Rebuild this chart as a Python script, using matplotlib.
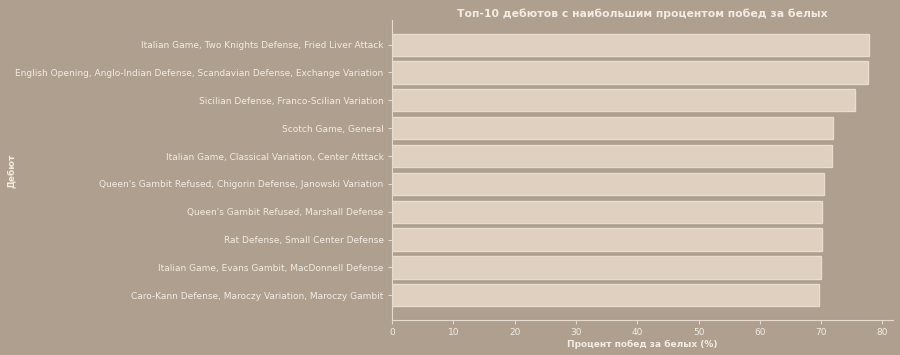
import matplotlib
matplotlib.use("Agg")
import matplotlib.pyplot as plt

openings = [
    "Italian Game, Two Knights Defense, Fried Liver Attack",
    "English Opening, Anglo-Indian Defense, Scandavian Defense, Exchange Variation",
    "Sicilian Defense, Franco-Scilian Variation",
    "Scotch Game, General",
    "Italian Game, Classical Variation, Center Atttack",
    "Queen's Gambit Refused, Chigorin Defense, Janowski Variation",
    "Queen's Gambit Refused, Marshall Defense",
    "Rat Defense, Small Center Defense",
    "Italian Game, Evans Gambit, MacDonnell Defense",
    "Caro-Kann Defense, Maroczy Variation, Maroczy Gambit",
]
white_win_pct = [77.8, 77.7, 75.6, 71.9, 71.8, 70.4, 70.2, 70.2, 70.0, 69.7]

bg = "#ae9f8e"
bar_color = "#dfd0bf"
edge_color = "#e9ddd0"
text_color = "#f3ece4"
spine_color = "#e6dbcf"

plt.rcParams['font.family'] = ['DejaVu Sans']
fig = plt.figure(figsize=(9, 3.55), dpi=100, facecolor=bg)
ax = fig.add_axes([0.4356, 0.0986, 0.5564, 0.8454])
ax.set_facecolor(bg)

ypos = list(range(len(openings)))
ax.barh(ypos, white_win_pct, height=0.8, color=bar_color, edgecolor=edge_color, linewidth=1)
ax.set_yticks(ypos)
ax.set_yticklabels(openings)
ax.invert_yaxis()
ax.set_xticks([0, 10, 20, 30, 40, 50, 60, 70, 80])

ax.tick_params(colors=spine_color, labelcolor=text_color, labelsize=6.5, length=3, pad=3)
for s in ["top", "right"]:
    ax.spines[s].set_visible(False)
for s in ["left", "bottom"]:
    ax.spines[s].set_color(spine_color)

ax.set_xlabel("Процент побед за белых (%)", color=text_color, fontweight="bold", fontsize=6.5,
              labelpad=2)
fig.text(0.013, 0.52, "Дебют", rotation=90, color=text_color, fontweight="bold",
         fontsize=6.5, ha="center", va="center")
ax.set_title("Топ-10 дебютов с наибольшим процентом побед за белых", color=text_color,
             fontweight="bold", fontsize=7.8, pad=2)

fig.savefig("out.png", dpi=100, facecolor=bg)
